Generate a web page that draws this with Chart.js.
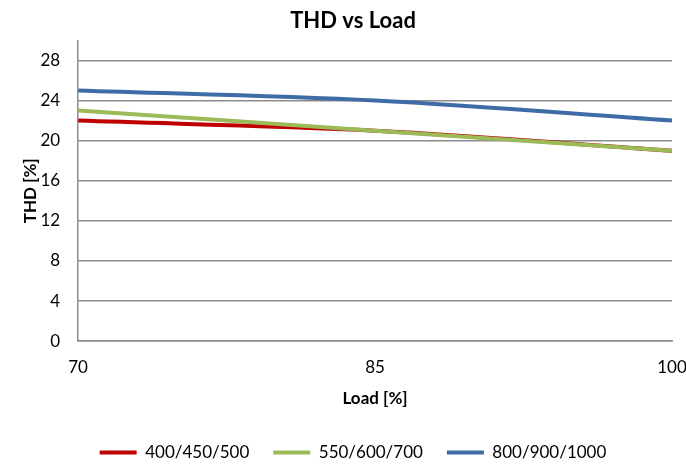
<!DOCTYPE html>
<html>
<head>
<meta charset="utf-8">
<script src="https://cdn.jsdelivr.net/npm/chart.js@4"></script>
<style>
  html, body { margin: 0; padding: 0; background: #fff; }
  #wrap { width: 686px; height: 468px; }
</style>
</head>
<body>
<div id="wrap"><canvas id="myChart"></canvas></div>
<script>
let loads = [70, 85, 100];
let red = [22, 21, 19];
let green = [23, 21, 19];
let blue = [25, 24, 22];
let seriesNames = ['400/450/500', '550/600/700', '800/900/1000'];
let yTicks = [0, 4, 8, 12, 16, 20, 24, 28];
let xTicks = [70, 85, 100];

const FONT = 'Lato';

function pts(vals) {
  return loads.map((x, i) => ({ x: x, y: vals[i] }));
}

function line(name, vals, color, order) {
  return {
    label: name,
    data: pts(vals),
    borderColor: color,
    backgroundColor: color,
    borderWidth: 4,
    pointRadius: 0,
    tension: 0.35,
    order: order
  };
}

let ctx = document.getElementById('myChart').getContext('2d');
let thdChart = new Chart(ctx, {
  type: 'line',
  data: {
    datasets: [
      line(seriesNames[0], red, '#C00000', 2),
      line(seriesNames[1], green, '#9BBB59', 1),
      line(seriesNames[2], blue, '#3F6CA6', 0)
    ]
  },
  options: {
    responsive: true,
    maintainAspectRatio: false,
    animation: false,
    layout: { padding: { left: 20, right: 0, top: 4, bottom: -3 } },
    plugins: {
      title: {
        display: true,
        text: 'THD vs Load',
        color: '#000',
        font: { family: FONT, size: 22, weight: 'bold' },
        padding: { top: 4, bottom: 6 }
      },
      legend: {
        position: 'bottom',
        labels: {
          color: '#000',
          font: { family: FONT, size: 17 },
          boxWidth: 37,
          boxHeight: 4,
          padding: 24,
          sort: (a, b) => a.datasetIndex - b.datasetIndex,
          generateLabels: (chart) => Chart.defaults.plugins.legend.labels.generateLabels(chart).map(l => {
            l.lineWidth = 0;
            return l;
          })
        }
      },
      tooltip: { enabled: false }
    },
    scales: {
      x: {
        type: 'linear',
        min: 70,
        max: 100,
        afterBuildTicks: (axis) => { axis.ticks = xTicks.map(v => ({ value: v })); },
        afterFit: (axis) => { axis.paddingRight = 14; },
        ticks: {
          color: '#000',
          font: { family: FONT, size: 17 },
          padding: 8
        },
        grid: { display: false },
        border: { color: '#8C8C8C', width: 1.5 },
        title: {
          display: true,
          text: 'Load [%]',
          color: '#000',
          font: { family: FONT, size: 17, weight: 'bold' },
          padding: { top: 3, bottom: 11 }
        }
      },
      y: {
        min: 0,
        max: 30,
        afterBuildTicks: (axis) => { axis.ticks = yTicks.map(v => ({ value: v })); },
        ticks: {
          color: '#000',
          font: { family: FONT, size: 17 },
          padding: 18
        },
        grid: {
          color: '#8C8C8C',
          lineWidth: 1.5,
          drawTicks: false
        },
        border: { color: '#8C8C8C', width: 1.5 },
        title: {
          display: true,
          text: 'THD [%]',
          color: '#000',
          font: { family: FONT, size: 17, weight: 'bold' },
          padding: { top: 0, bottom: -18 }
        }
      }
    }
  }
});
</script>
</body>
</html>
